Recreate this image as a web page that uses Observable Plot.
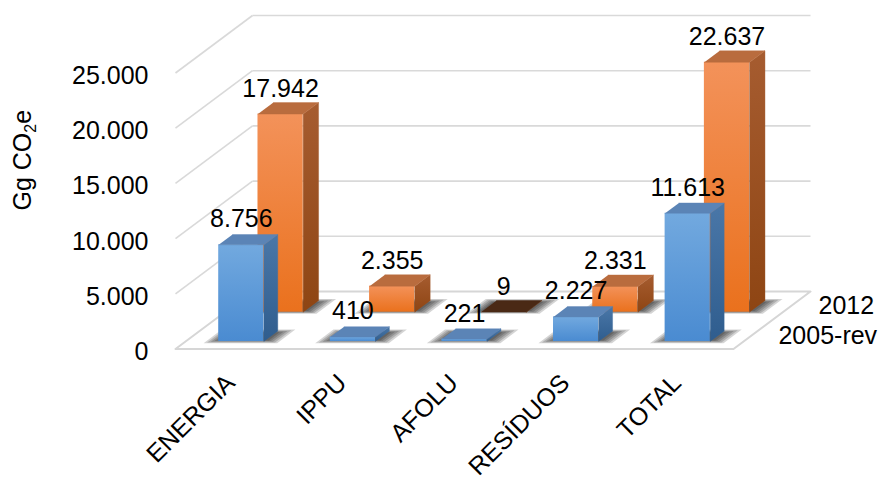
<!DOCTYPE html>
<html>
<head>
<meta charset="utf-8">
<script src="https://cdn.jsdelivr.net/npm/d3@7"></script>
<script src="https://cdn.jsdelivr.net/npm/@observablehq/plot@0.6"></script>
<style>
  html, body { margin: 0; padding: 0; background: #fff; overflow: hidden; }
</style>
</head>
<body>
<div id="chart"></div>
<script>
// Emissions by sector (Gg CO2e)
const categories = ["ENERGIA", "IPPU", "AFOLU", "RESÍDUOS", "TOTAL"];
const series = ["2005-rev", "2012"];
const values2005rev = [8756, 410, 221, 2227, 11613];
const values2012 = [17942, 2355, 9, 2331, 22637];
const yTicks = [0, 5000, 10000, 15000, 20000, 25000];
const yTitle = "Gg CO2e";

const fmt = d3.formatLocale({decimal: ",", thousands: ".", grouping: [3], currency: ["", ""]}).format(",d");

// Oblique 3-D projection: a depth t in [0, 1] moves a point right (category units)
// and up (value units), so every face is still drawn through the x and y scales.
const KX = 0.69;
const KY = 5208;
const BAR = 0.405;      // bar width, in category units
const N = categories.length;

// back row first so the front row paints over it
const rows = [
  {name: series[1], values: values2012, t0: 0.64, t1: 0.84,
   front: "url(#front-orange)", side: "url(#side-orange)", top: "#b96c3e"},
  {name: series[0], values: values2005rev, t0: 0.13, t1: 0.31,
   front: "url(#front-blue)", side: "url(#side-blue)", top: "#5b84b6"}
];
const P = (c, v, t) => ({x: c + t * KX, y: v + t * KY});

function polygon(id, fill, pts) {
  return pts.map(([c, v, t]) => ({id, fill, ...P(c, v, t)}));
}

// soft contact shadow: a few stacked, widening footprints on the floor
const shadowLayers = [0, 1, 2, 3, 4];

const rowMarks = [];
const valueLabels = [];
rows.forEach((r, ri) => {
  const fronts = [];
  const faces = [];
  const shade = [];
  r.values.forEach((v, i) => {
    const cx = i + 0.5, xl = cx - BAR / 2, xr = cx + BAR / 2;
    shadowLayers.forEach(k => {
      const l = xl - 0.02 - 0.024 * k, rr = xr + 0.03 + 0.027 * k;
      const a = r.t0 + 0.02 - 0.012 * k, b = r.t1 - 0.02 + 0.012 * k;
      shade.push(...polygon(`h${ri}-${i}-${k}`, "#000", [[l, 0, a], [rr, 0, a], [rr, 0, b], [l, 0, b]]));
    });
    fronts.push({x1: xl + r.t0 * KX, x2: xr + r.t0 * KX, y1: r.t0 * KY, y2: v + r.t0 * KY, fill: r.front});
    faces.push(...polygon(`s${ri}-${i}`, r.side, [[xr, 0, r.t0], [xr, v, r.t0], [xr, v, r.t1], [xr, 0, r.t1]]));
    // a bar that barely rises above the floor shows its lid in shade
    const topFill = v < 50 ? "#4a2915" : r.top;
    faces.push(...polygon(`t${ri}-${i}`, topFill, [[xl, v, r.t0], [xr, v, r.t0], [xr, v, r.t1], [xl, v, r.t1]]));
    valueLabels.push({...P(cx, v, r.t0), text: fmt(v)});
  });
  rowMarks.push(
    Plot.line(shade, {x: "x", y: "y", z: "id", fill: "fill", stroke: "none", fillOpacity: 0.17}),
    Plot.rect(fronts, {x1: "x1", x2: "x2", y1: "y1", y2: "y2", fill: "fill"}),
    Plot.line(faces, {x: "x", y: "y", z: "id", fill: "fill", stroke: "fill", strokeWidth: 0.4})
  );
});

const floor = [[0, 0, 0], [N, 0, 0], [N, 0, 1], [0, 0, 1], [0, 0, 0]].map(([c, v, t]) => P(c, v, t));
const grid = yTicks.filter(d => d > 0);

const textStyle = {fill: "#000", fontSize: 25, stroke: "none"};

const chart = Plot.plot({
  width: 886,
  height: 479,
  margin: 0,
  style: {fontFamily: "'Liberation Sans', Arial, sans-serif", background: "#fff", color: "#000"},
  x: {domain: [0, N], range: [175, 733], axis: null},
  y: {domain: [0, 25000], range: [348.5, 72.5], axis: null},
  color: {type: "identity"},
  marks: [
    // floor
    Plot.line(floor, {x: "x", y: "y", fill: "#fff", stroke: "#d6d6d6", strokeWidth: 2}),
    // side-wall and back-wall gridlines
    Plot.link(grid, {x1: 0, y1: d => d, x2: KX, y2: d => d + KY, stroke: "#d9d9d9", strokeWidth: 1.6}),
    Plot.link(grid, {x1: KX, y1: d => d + KY, x2: N + KX, y2: d => d + KY, stroke: "#d9d9d9", strokeWidth: 1.6}),
    ...rowMarks,
    // value labels
    Plot.text(valueLabels, {x: "x", y: "y", text: "text", lineAnchor: "bottom", dy: -17.5, ...textStyle}),
    // value axis
    Plot.text(yTicks, {x: 0, y: d => d, text: d => fmt(d), textAnchor: "end", dx: -27, dy: 3, ...textStyle}),
    Plot.text([yTitle], {frameAnchor: "left", text: d => d, rotate: -90, dx: 22, dy: -29.5, ...textStyle}),
    // category axis
    Plot.text(categories, {x: (d, i) => i + 0.5, y: 0, text: d => d, rotate: -45, textAnchor: "end",
      lineAnchor: "bottom", dx: 5, dy: 35.5, ...textStyle}),
    // series (depth) axis
    Plot.text(rows, {x: r => N + (r.t0 + r.t1) / 2 * KX, y: r => (r.t0 + r.t1) / 2 * KY, text: "name",
      textAnchor: "start", dx: 28, ...textStyle})
  ]
});

// vertical gradients for the bar faces
const svg = d3.select(chart.tagName.toLowerCase() === "svg" ? chart : chart.querySelector("svg"));
const defs = svg.insert("defs", ":first-child");
function vgrad(id, a, b) {
  const g = defs.append("linearGradient").attr("id", id).attr("x1", 0).attr("y1", 0).attr("x2", 0).attr("y2", 1);
  g.append("stop").attr("offset", "0%").attr("stop-color", a);
  g.append("stop").attr("offset", "100%").attr("stop-color", b);
}
vgrad("front-blue", "#72a9df", "#4a8bd1");
vgrad("side-blue", "#4a77a8", "#2f5d8e");
vgrad("front-orange", "#f3925a", "#ea711d");
vgrad("side-orange", "#a65c30", "#8e4513");

// subscript in the unit title
svg.selectAll("text").filter(function () { return this.textContent === yTitle; }).each(function () {
  const t = d3.select(this);
  t.text(null);
  t.append("tspan").text("Gg CO");
  t.append("tspan").text("2").attr("font-size", "16px").attr("dy", "5");
  t.append("tspan").text("e").attr("dy", "-5");
});

document.getElementById("chart").appendChild(chart);
</script>
</body>
</html>
